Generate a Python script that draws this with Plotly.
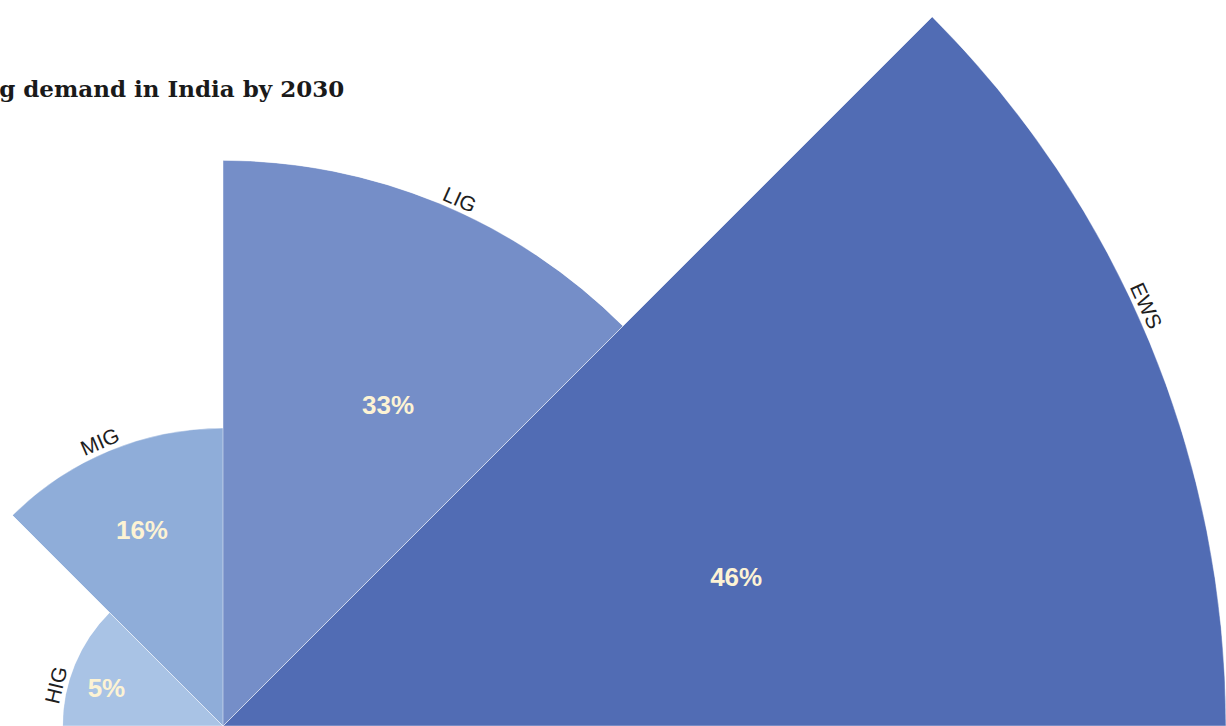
import math
import plotly.graph_objects as go

# ---------------- data ----------------
categories = ["EWS", "LIG", "MIG", "HIG"]
share_pct = [46, 33, 16, 5]                 # printed share of housing demand
bar_length = [100, 56.4, 29.7, 16.0]        # relative wedge radius (EWS = 100)
theta_center = [22.5, 67.5, 112.5, 157.5]   # wedge centre angle, degrees
wedge_width = [45, 45, 45, 45]              # wedge angular width, degrees
title_text = "Housing demand in India by 2030"

# ---------------- styling / placement ----------------
colors = ["#516cb4", "#758ec8", "#8fadd9", "#a9c3e5"]
pct_color = "#fdf3d4"
W, H = 1226, 726
CX, CY = 223, 726                     # pixel position of the pole
PX = (W - CX) / max(bar_length)       # pixels per radial unit
pct_label_frac = [0.532, 0.634, 0.705, 0.76]   # label radius as fraction of wedge
pct_label_theta = [15.9, 62.6, 112.7, 162.9]
cat_label_theta = [24.5, 65.8, 113.4, 166.3]
cat_label_gap = 12                              # px outside the arc
sans = "Liberation Sans, Arial, Helvetica, sans-serif"


def sector_bbox(a0, a1):
    pts = [(0.0, 0.0),
           (math.cos(math.radians(a0)), math.sin(math.radians(a0))),
           (math.cos(math.radians(a1)), math.sin(math.radians(a1)))]
    for k in range(-4, 9):
        a = 90 * k
        if a0 < a < a1:
            pts.append((math.cos(math.radians(a)), math.sin(math.radians(a))))
    xs = [round(p[0], 9) for p in pts]
    ys = [round(p[1], 9) for p in pts]
    return min(xs), max(xs), min(ys), max(ys)


def clamp(v):
    return max(0.0, min(1.0, v))


fig = go.Figure()
layout_polars = {}
annotations = []

for i, cat in enumerate(categories):
    name = "polar" if i == 0 else f"polar{i + 1}"
    a0 = theta_center[i] - wedge_width[i] / 2
    a1 = theta_center[i] + wedge_width[i] / 2
    R = bar_length[i] * PX
    xmin, xmax, ymin, ymax = sector_bbox(a0, a1)
    dom_x = [clamp((CX + R * xmin) / W), clamp((CX + R * xmax) / W)]
    dom_y = [clamp((H - CY + R * ymin) / H), clamp((H - CY + R * ymax) / H)]
    layout_polars[name] = dict(
        domain=dict(x=dom_x, y=dom_y),
        sector=[a0, a1],
        bgcolor="rgba(0,0,0,0)",
        hole=0,
        radialaxis=dict(range=[0, bar_length[i]], visible=False, showgrid=False,
                        showline=False, showticklabels=False, ticks=""),
        angularaxis=dict(visible=False, direction="counterclockwise", rotation=0,
                         showgrid=False, showline=False, showticklabels=False, ticks=""),
    )

    fig.add_trace(go.Barpolar(
        r=[bar_length[i]], theta=[theta_center[i]], width=[wedge_width[i]],
        marker=dict(color=colors[i], line=dict(color="rgba(255,255,255,0.45)", width=1)),
        subplot=name, hoverinfo="skip", showlegend=False,
    ))
    fig.add_trace(go.Scatterpolar(
        r=[bar_length[i] * pct_label_frac[i]], theta=[pct_label_theta[i]],
        mode="text", text=[f"<b>{share_pct[i]}%</b>"],
        textfont=dict(family=sans, size=26, color=pct_color),
        textposition="middle center",
        subplot=name, hoverinfo="skip", showlegend=False,
    ))

    # category label, tangent to the outer arc
    rl = R + cat_label_gap
    ang = math.radians(cat_label_theta[i])
    px_x = CX + rl * math.cos(ang)
    px_y = CY - rl * math.sin(ang)
    annotations.append(dict(
        text=cat, xref="paper", yref="paper",
        x=px_x / W, y=1 - px_y / H, xanchor="center", yanchor="middle",
        textangle=90 - cat_label_theta[i], showarrow=False,
        font=dict(family=sans, size=21, color="#1e1e1e"),
    ))

annotations.append(dict(
    text=f"<b>{title_text}</b>", xref="paper", yref="paper",
    x=346 / W, y=1 - 88 / H, xanchor="right", yanchor="middle",
    showarrow=False, font=dict(family="DejaVu Serif, serif", size=23, color="#1a1a1a"),
))

fig.update_layout(
    width=W, height=H,
    margin=dict(l=0, r=0, t=0, b=0),
    paper_bgcolor="white", plot_bgcolor="white",
    template="none",
    showlegend=False,
    annotations=annotations,
    **layout_polars,
)

fig.write_html("out.html")
